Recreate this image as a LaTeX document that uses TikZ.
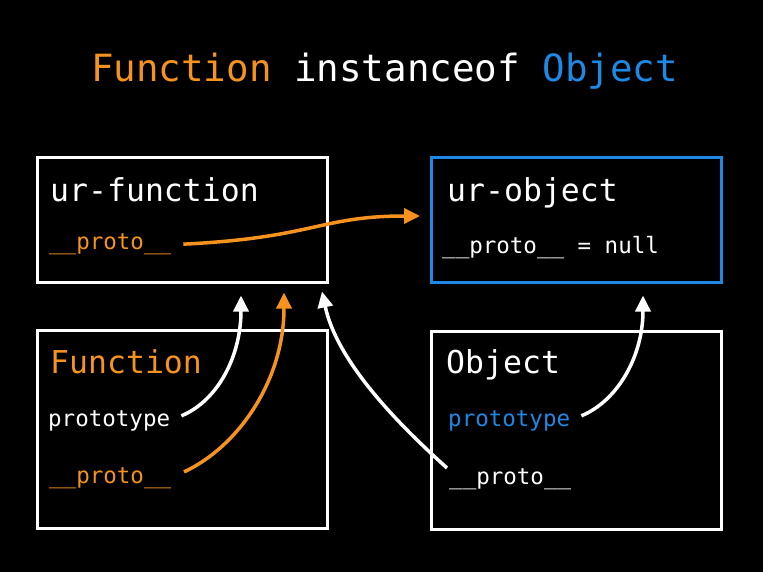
\documentclass[tikz,border=0pt]{standalone}
\usepackage{fontspec}
\setmonofont{DejaVu Sans Mono}
\usepackage{tikz}
\usetikzlibrary{
  arrows.meta,
  positioning,
  calc
}
\definecolor{bgcolor}{RGB}{0, 0, 0}
\definecolor{funccolor}{RGB}{245, 147, 30}
\definecolor{objcolor}{RGB}{30, 136, 229}
\definecolor{linecolor}{RGB}{255, 255, 255}
\tikzset{
bigtext/.style={
  font=\ttfamily\fontsize{31.5}{31.5}\selectfont,
  text=linecolor,
  inner sep=0pt,
  anchor=base west
},
smalltext/.style={
  font=\ttfamily\fontsize{22.5}{22.5}\selectfont,
  text=linecolor,
  inner sep=0pt,
  anchor=base west
},
objbox/.style={
  draw=linecolor,
  line width=3pt,
  minimum width=290pt,
  inner sep=0pt
},
arrow/.style={
  -{Triangle[length=16pt,width=15pt]},
  line width=3.5pt,
  draw=linecolor
},
funcarrow/.style={
  arrow,
  draw=funccolor
}
}

\begin{document}
\begin{tikzpicture}[x=1pt, y=-1pt]
  % Background
  \fill[bgcolor] (0,0) rectangle (763,572);

  % Title
  \node[font=\ttfamily\fontsize{37.5}{37.5}\selectfont, text=linecolor, inner sep=0pt, anchor=base]
    (title) at (384.5,82) {{\color{funccolor}Function} instanceof {\color{objcolor}Object}};

  % Boxes
  \node[objbox, minimum height=124pt] (urfunc) at (182,220) {};
  \node[objbox, draw=objcolor, minimum height=124pt] (urobj) at (576.5,220) {};
  \node[objbox, minimum height=198pt] (funcbox) at (182,429) {};
  \node[objbox, minimum height=198pt] (objectbox) at (576.5,430) {};

  % ur-function
  \node[bigtext] (ufname) at (50,202) {ur-function};
  \node[smalltext, text=funccolor] (ufproto) at (49,250) {\_\_proto\_\_};

  % ur-object
  \node[bigtext] (uoname) at (447,202) {ur-object};
  \node[smalltext] (uoproto) at (442,254) {\_\_proto\_\_ = null};

  % Function
  \node[bigtext, text=funccolor] (fname) at (50,373) {Function};
  \node[smalltext] (fprototype) at (48,426) {prototype};
  \node[smalltext, text=funccolor] (fproto) at (49,483) {\_\_proto\_\_};

  % Object
  \node[bigtext] (oname) at (446,373) {Object};
  \node[smalltext, text=objcolor] (oprototype) at (448,426) {prototype};
  \node[smalltext] (oproto) at (449,484) {\_\_proto\_\_};

  % Arrow targets
  \coordinate (tobj) at ([xshift=-10pt,yshift=4pt]urobj.west);
  \coordinate (tproto) at ([xshift=59pt,yshift=-12pt]urfunc.south);
  \coordinate (tfproto) at ([xshift=102pt,yshift=-9pt]urfunc.south);
  \coordinate (toproto) at ([xshift=140pt,yshift=-8pt]urfunc.south);
  \coordinate (tuobj) at ([xshift=66.5pt,yshift=-12pt]urobj.south);

  % Arrows
  \draw[funcarrow, shorten <=12pt] (ufproto.east) .. controls +(143,-7) and +(-100,0) .. (tobj);
  \draw[arrow, shorten <=12pt] (fprototype.east) .. controls +(48,-20) and +(0,60) .. (tproto);
  \draw[funcarrow, shorten <=14pt] (fproto.east) .. controls +(65,-30) and +(0,90) .. (tfproto);
  \draw[arrow] ([xshift=-2pt]oproto.north west) .. controls +(-50,-45) and +(15,70) .. (toproto);
  \draw[arrow, shorten <=12pt] (oprototype.east) .. controls +(48,-20) and +(0,60) .. (tuobj);
\end{tikzpicture}
\end{document}
